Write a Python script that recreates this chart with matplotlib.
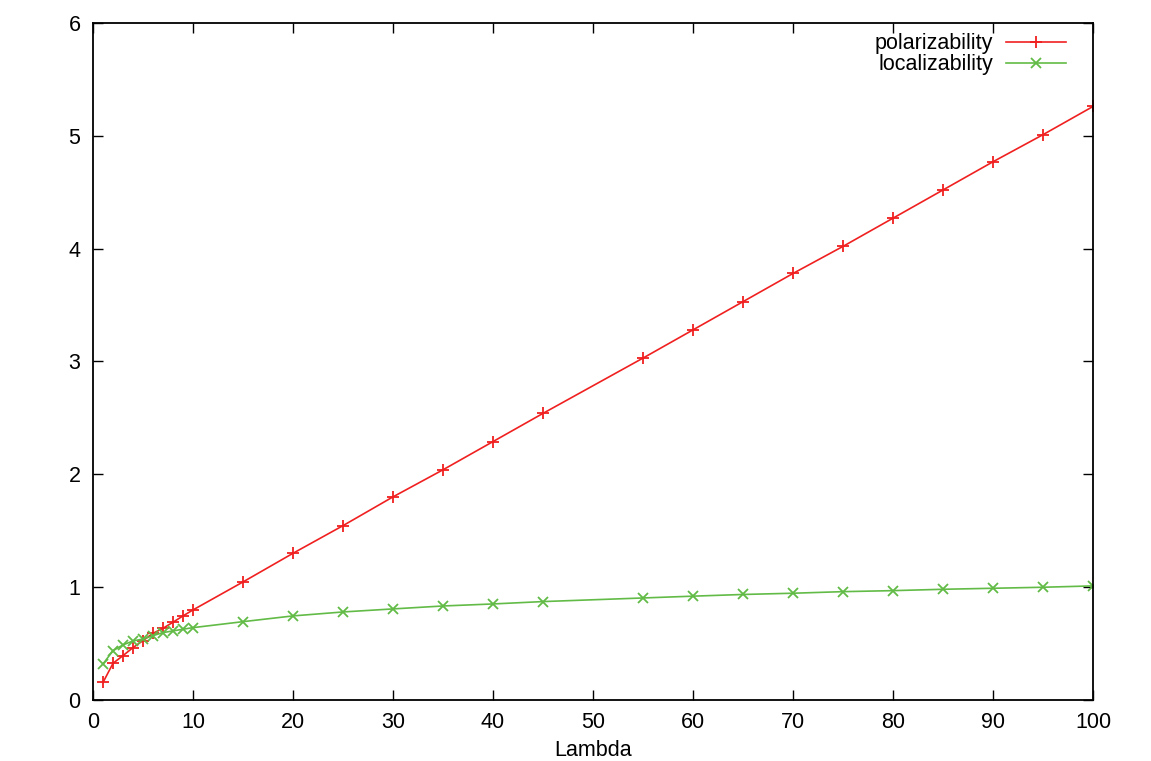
import matplotlib
matplotlib.use("Agg")
import matplotlib.pyplot as plt

plt.rcParams['font.family'] = ['Liberation Sans', 'DejaVu Sans']

lam = [1, 2, 3, 4, 5, 6, 7, 8, 9, 10, 15, 20, 25, 30, 35, 40, 45,
       55, 60, 65, 70, 75, 80, 85, 90, 95, 100]

polarizability = [0.155, 0.325, 0.393, 0.464, 0.526, 0.591, 0.635, 0.689, 0.745, 0.798,
                  1.046, 1.30, 1.545, 1.80, 2.04, 2.29, 2.54,
                  3.03, 3.28, 3.53, 3.78, 4.02, 4.27, 4.52, 4.77, 5.01, 5.26]

localizability = [0.319, 0.437, 0.488, 0.523, 0.54, 0.57, 0.597, 0.612, 0.627, 0.641,
                  0.694, 0.745, 0.78, 0.807, 0.833, 0.851, 0.872,
                  0.904, 0.92, 0.935, 0.946, 0.96, 0.969, 0.981, 0.99, 0.999, 1.011]

fig = plt.figure(figsize=(11.51, 7.61), dpi=100)
ax = fig.add_axes([0.0808, 0.0802, 0.8688, 0.8896])

ax.plot(lam, polarizability, color='#f02020', lw=1.2, marker='+',
        ms=9, mew=1.3, label='polarizability')
ax.plot(lam, localizability, color='#62bb46', lw=1.2, marker='x',
        ms=7, mew=1.3, label='localizability')

ax.set_xlim(0, 100)
ax.set_ylim(0, 6)
ax.set_xticks(range(0, 101, 10))
ax.set_yticks(range(0, 7))
ax.tick_params(direction='in', length=7, width=1, labelsize=15.5, top=True, right=True, pad=9)
for s in ax.spines.values():
    s.set_linewidth(1.3)

ax.set_xlabel('Lambda', fontsize=15.5, labelpad=5)

ax.legend(loc='upper right', bbox_to_anchor=(0.973, 0.985), frameon=False,
          markerfirst=False, fontsize=15.5, handlelength=2.8, handletextpad=0.6,
          labelspacing=0.0, borderaxespad=0, borderpad=0)

fig.savefig('out.png', dpi=100)
